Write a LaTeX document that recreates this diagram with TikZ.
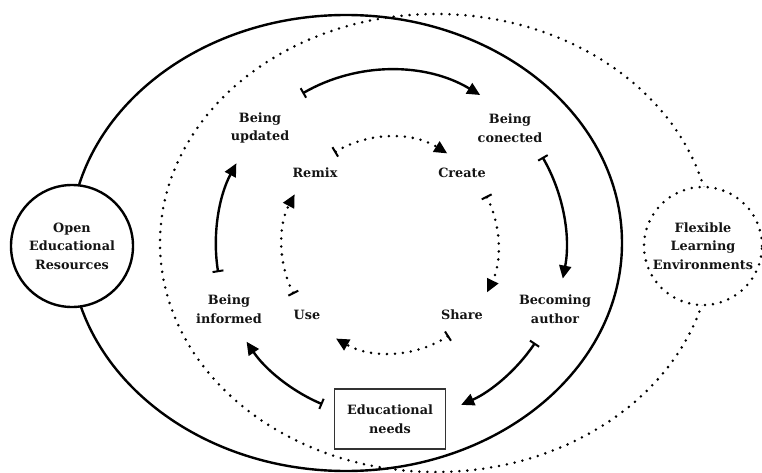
\documentclass[tikz,border=0pt]{standalone}
\usepackage{fontspec}
\setmainfont{DejaVu Serif}
\usetikzlibrary{arrows.meta}
\begin{document}
\begin{tikzpicture}[x=1pt,y=1pt,
  lbl/.style={font=\fontsize{12.8}{18.5}\selectfont\bfseries, align=center, text=black!92, inner sep=0pt},
  dotline/.style={line width=2.8pt, line cap=round, dash pattern=on 0pt off 8pt},
  arr/.style={line width=2.4pt, {Bar[width=11pt,line width=2pt]}-{Triangle[length=13pt,width=12pt]}},
  darr/.style={dotline, {Bar[width=11pt,line width=2pt]}-{Triangle[length=13pt,width=12pt]}},
]
\useasboundingbox (0,0) rectangle (762,-473);
% big ellipses
\draw[line width=2.4pt] (346,-243) ellipse [x radius=276, y radius=228];
\draw[dotline] (436,-243) ellipse [x radius=276, y radius=229];
% side circles
\node[circle, draw, line width=2.4pt, fill=white, minimum size=122pt, lbl] (oer) at (72,-246) {Open\\Educational\\Resources};
\node[circle, draw, dotline, fill=white, minimum size=118pt, lbl] (fle) at (703,-246) {Flexible\\Learning\\Environments};
% labels
\node[lbl] (bu) at (260,-128) {Being\\updated};
\node[lbl] (bc) at (510,-128) {Being\\conected};
\node[lbl] (ba) at (555,-309) {Becoming\\author};
\node[lbl] (bi) at (229,-309) {Being\\informed};
\node[lbl] (remix) at (315,-173) {Remix};
\node[lbl] (create) at (462,-173) {Create};
\node[lbl] (share) at (462,-315) {Share};
\node[lbl] (use) at (307,-315) {Use};
\node[lbl, draw=black!80, line width=1.3pt, minimum width=111pt, minimum height=60pt] (needs) at (390,-419) {Educational\\needs};
% centre of the cycles
\coordinate (c) at (390,-245);
% outer solid cycle
\draw[arr] ([shift={(120:175)}]c) arc[start angle=120, end angle=59, radius=175];
\draw[arr] ([shift={(30:176)}]c) arc[start angle=30, end angle=-11, radius=176];
\draw[arr] ([shift={(-34:175)}]c) arc[start angle=-34, end angle=-66, radius=175];
\draw[arr] ([shift={(-113:173)}]c) arc[start angle=-113, end angle=-146, radius=173];
\draw[arr] ([shift={(-171:174)}]c) arc[start angle=-171, end angle=-208, radius=174];
% inner dotted cycle
\draw[darr] ([shift={(121:108)}]c) arc[start angle=121, end angle=58, radius=108];
\draw[darr] ([shift={(27:108)}]c) arc[start angle=27, end angle=-26, radius=108];
\draw[darr] ([shift={(-57:108)}]c) arc[start angle=-57, end angle=-120, radius=108];
\draw[darr] ([shift={(-153:108)}]c) arc[start angle=-153, end angle=-208, radius=108];
\end{tikzpicture}
\end{document}
